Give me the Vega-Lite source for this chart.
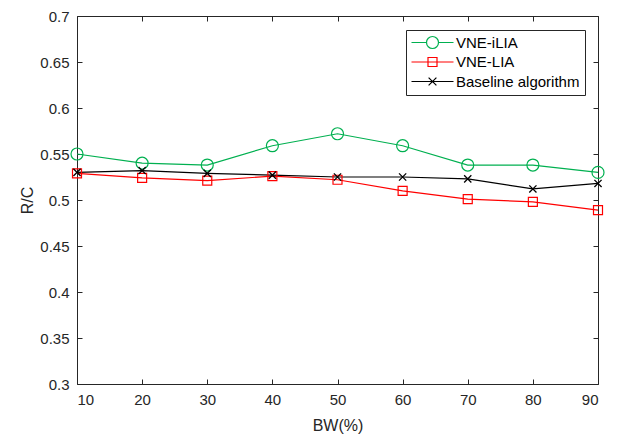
{
  "$schema": "https://vega.github.io/schema/vega-lite/v6.json",
  "width": 521,
  "height": 368,
  "autosize": "none",
  "padding": {"left": 77, "top": 16, "right": 22, "bottom": 52},
  "background": "white",
  "config": {
    "font": "Liberation Sans",
    "view": {"stroke": null},
    "axis": {"grid": false, "domain": false, "domainColor": "#262626", "domainWidth": 1, "tickColor": "#262626", "labelColor": "#262626", "titleColor": "#262626", "labelFontSize": 15, "titleFontSize": 16, "titleFontWeight": "normal", "tickSize": 5, "tickWidth": 1}
  },
  "data": {"values": [
    {"bw": 10, "v": 0.550, "s": "VNE-iLIA"},
    {"bw": 20, "v": 0.540, "s": "VNE-iLIA"},
    {"bw": 30, "v": 0.538, "s": "VNE-iLIA"},
    {"bw": 40, "v": 0.559, "s": "VNE-iLIA"},
    {"bw": 50, "v": 0.572, "s": "VNE-iLIA"},
    {"bw": 60, "v": 0.559, "s": "VNE-iLIA"},
    {"bw": 70, "v": 0.538, "s": "VNE-iLIA"},
    {"bw": 80, "v": 0.538, "s": "VNE-iLIA"},
    {"bw": 90, "v": 0.530, "s": "VNE-iLIA"},
    {"bw": 10, "v": 0.529, "s": "VNE-LIA"},
    {"bw": 20, "v": 0.524, "s": "VNE-LIA"},
    {"bw": 30, "v": 0.521, "s": "VNE-LIA"},
    {"bw": 40, "v": 0.526, "s": "VNE-LIA"},
    {"bw": 50, "v": 0.522, "s": "VNE-LIA"},
    {"bw": 60, "v": 0.510, "s": "VNE-LIA"},
    {"bw": 70, "v": 0.501, "s": "VNE-LIA"},
    {"bw": 80, "v": 0.498, "s": "VNE-LIA"},
    {"bw": 90, "v": 0.489, "s": "VNE-LIA"},
    {"bw": 10, "v": 0.530, "s": "Baseline algorithm"},
    {"bw": 20, "v": 0.532, "s": "Baseline algorithm"},
    {"bw": 30, "v": 0.529, "s": "Baseline algorithm"},
    {"bw": 40, "v": 0.527, "s": "Baseline algorithm"},
    {"bw": 50, "v": 0.525, "s": "Baseline algorithm"},
    {"bw": 60, "v": 0.525, "s": "Baseline algorithm"},
    {"bw": 70, "v": 0.523, "s": "Baseline algorithm"},
    {"bw": 80, "v": 0.512, "s": "Baseline algorithm"},
    {"bw": 90, "v": 0.518, "s": "Baseline algorithm"}
  ]},
  "resolve": {"axis": {"x": "independent", "y": "independent"}},
  "layer": [
    {
      "mark": {"type": "line", "strokeWidth": 1.2},
      "encoding": {
        "x": {"field": "bw", "type": "quantitative", "scale": {"domain": [10, 90], "nice": false, "zero": false},
              "axis": {"orient": "bottom", "title": "BW(%)", "domain": true, "ticks": false, "values": [10, 20, 30, 40, 50, 60, 70, 80, 90], "labelPadding": 8, "titlePadding": 10}},
        "y": {"field": "v", "type": "quantitative", "scale": {"domain": [0.3, 0.7], "nice": false, "zero": false},
              "axis": {"orient": "left", "title": "R/C", "domain": true, "ticks": false, "values": [0.3, 0.35, 0.4, 0.45, 0.5, 0.55, 0.6, 0.65, 0.7], "format": ".2~f", "labelPadding": 8, "titlePadding": 4}},
        "color": {"field": "s", "type": "nominal",
                  "scale": {"domain": ["VNE-iLIA", "VNE-LIA", "Baseline algorithm"], "range": ["#00b050", "#ff0000", "#000000"]},
                  "legend": {"title": null, "orient": "none", "legendX": 329, "legendY": 14, "strokeColor": "#262626", "fillColor": "white", "padding": 5,
                             "symbolType": "stroke", "symbolSize": 144, "symbolStrokeWidth": 1.2, "symbolOffset": 14, "labelOffset": 16, "rowPadding": 3.5, "labelFontSize": 15, "labelColor": "#000000",
                             "encode": {"symbols": {"update": {"fill": {"value": "transparent"},
                               "shape": {"signal": "datum.value === 'VNE-iLIA' ? 'M-3.5,0H-1M1,0H3.5M-1,0A1,1 0 1,1 1,0A1,1 0 1,1 -1,0' : datum.value === 'VNE-LIA' ? 'M-3.5,0H3.5M-0.75,-0.75H0.75V0.75H-0.75Z' : 'M-3.5,0H3.5M-0.65,-0.65L0.65,0.65M-0.65,0.65L0.65,-0.65'"}}}}}}
      }
    },
    {
      "transform": [{"filter": "datum.s === 'VNE-iLIA'"}],
      "mark": {"type": "point", "filled": false, "size": 144, "strokeWidth": 1.2, "opacity": 1, "shape": "circle", "color": "#00b050"},
      "encoding": {
        "x": {"field": "bw", "type": "quantitative", "axis": {"orient": "bottom", "title": null, "labels": false, "offset": -5, "values": [10, 20, 30, 40, 50, 60, 70, 80, 90]}},
        "y": {"field": "v", "type": "quantitative", "axis": {"orient": "left", "title": null, "labels": false, "offset": -5, "values": [0.3, 0.35, 0.4, 0.45, 0.5, 0.55, 0.6, 0.65, 0.7]}}
      }
    },
    {
      "transform": [{"filter": "datum.s === 'VNE-LIA'"}],
      "mark": {"type": "point", "filled": false, "size": 144, "strokeWidth": 1.2, "opacity": 1, "shape": "M-0.75,-0.75H0.75V0.75H-0.75Z", "color": "#ff0000"},
      "encoding": {
        "x": {"field": "bw", "type": "quantitative", "axis": {"orient": "top", "title": null, "labels": false, "offset": -5, "values": [10, 20, 30, 40, 50, 60, 70, 80, 90]}},
        "y": {"field": "v", "type": "quantitative", "axis": {"orient": "right", "title": null, "labels": false, "offset": -5, "values": [0.3, 0.35, 0.4, 0.45, 0.5, 0.55, 0.6, 0.65, 0.7]}}
      }
    },
    {
      "transform": [{"filter": "datum.s === 'Baseline algorithm'"}],
      "mark": {"type": "point", "filled": false, "size": 144, "strokeWidth": 1.3, "opacity": 1, "shape": "M-0.6,-0.6L0.6,0.6M-0.6,0.6L0.6,-0.6", "color": "#000000"},
      "encoding": {
        "x": {"field": "bw", "type": "quantitative", "axis": {"orient": "top", "title": null, "labels": false, "ticks": false, "domain": true}},
        "y": {"field": "v", "type": "quantitative", "axis": {"orient": "right", "title": null, "labels": false, "ticks": false, "domain": true}}
      }
    }
  ]
}
